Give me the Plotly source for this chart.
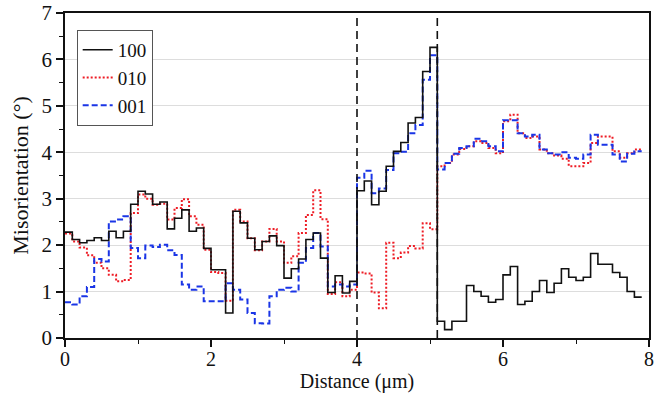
import plotly.graph_objects as go

distance = [0.0, 0.1, 0.2, 0.3, 0.4, 0.5, 0.6, 0.7, 0.8, 0.9,
            1.0, 1.1, 1.2, 1.3, 1.4, 1.5, 1.6, 1.7, 1.8, 1.9,
            2.0, 2.1, 2.2, 2.3, 2.4, 2.5, 2.6, 2.7, 2.8, 2.9,
            3.0, 3.1, 3.2, 3.3, 3.4, 3.5, 3.6, 3.7, 3.8, 3.9,
            4.0, 4.1, 4.2, 4.3, 4.4, 4.5, 4.6, 4.7, 4.8, 4.9,
            5.0, 5.1, 5.2, 5.3, 5.4, 5.5, 5.6, 5.7, 5.8, 5.9,
            6.0, 6.1, 6.2, 6.3, 6.4, 6.5, 6.6, 6.7, 6.8, 6.9,
            7.0, 7.1, 7.2, 7.3, 7.4, 7.5, 7.6, 7.7, 7.8, 7.9]

mis_100 = [2.28, 2.12, 2.05, 2.10, 2.16, 2.10, 2.30, 2.16, 2.30, 2.88,
           3.16, 3.10, 2.88, 2.93, 2.35, 2.58, 2.76, 2.30, 2.37, 1.93,
           1.47, 1.47, 0.54, 2.73, 2.48, 2.15, 1.90, 2.08, 2.20, 1.99,
           1.29, 1.49, 1.70, 2.12, 2.26, 1.72, 0.98, 1.34, 0.97, 1.22,
           3.17, 3.38, 2.87, 3.16, 3.70, 4.02, 4.21, 4.63, 4.75, 5.74,
           6.26, 0.36, 0.18, 0.36, 0.36, 1.13, 1.00, 0.90, 0.77, 0.83,
           1.36, 1.54, 0.72, 0.79, 1.00, 1.24, 0.98, 1.18, 1.49, 1.31,
           1.24, 1.31, 1.82, 1.59, 1.59, 1.41, 1.31, 1.00, 0.88, 0.88]

mis_010 = [2.25, 2.08, 1.95, 1.78, 1.62, 1.50, 1.36, 1.22, 1.25, 2.69,
           3.09, 3.00, 2.87, 2.89, 2.55, 2.80, 2.99, 2.62, 2.44, 1.90,
           1.42, 1.40, 0.80, 2.76, 2.51, 2.15, 1.89, 2.08, 2.35, 2.08,
           1.62, 1.76, 2.26, 2.65, 3.18, 2.56, 0.95, 1.20, 0.90, 1.04,
           1.41, 1.39, 0.98, 0.64, 2.05, 1.72, 1.84, 1.98, 1.93, 2.47,
           2.34, 3.70, 3.77, 3.95, 4.07, 4.13, 4.24, 4.20, 4.09, 3.98,
           4.67, 4.81, 4.41, 4.31, 4.34, 4.06, 3.98, 3.93, 3.86, 3.70,
           3.70, 3.77, 4.20, 4.34, 4.34, 4.02, 3.88, 3.98, 4.06, 4.06]

mis_001 = [0.77, 0.72, 0.90, 1.10, 1.70, 1.65, 2.51, 2.55, 2.62, 1.94,
           1.72, 1.99, 1.96, 2.01, 1.89, 1.79, 1.15, 1.04, 1.11, 0.79,
           0.79, 0.79, 1.18, 1.04, 0.83, 0.54, 0.32, 0.31, 0.90, 1.04,
           1.08, 1.00, 1.62, 1.94, 2.26, 1.97, 1.11, 1.15, 1.11, 1.15,
           3.45, 3.60, 3.12, 3.22, 3.62, 3.98, 4.01, 4.41, 4.59, 5.56,
           6.09, 3.63, 3.77, 3.97, 4.09, 4.13, 4.29, 4.24, 4.13, 4.02,
           4.69, 4.69, 4.41, 4.34, 4.38, 4.06, 3.98, 3.95, 4.00, 3.88,
           3.86, 3.95, 4.38, 4.16, 4.16, 3.95, 3.80, 3.97, 4.02, 4.02]

boundaries = [4.0, 5.1]
x_ticks = [0, 2, 4, 6, 8]
y_ticks = [0, 1, 2, 3, 4, 5, 6, 7]

SERIF = "Liberation Serif, Times New Roman, serif"

fig = go.Figure()
fig.add_trace(go.Scatter(x=distance, y=mis_010, name="010", mode="lines",
                         line=dict(color="#ee1c25", width=2, dash="2px,2px", shape="hv"),
                         legendrank=2))
fig.add_trace(go.Scatter(x=distance, y=mis_001, name="001", mode="lines",
                         line=dict(color="#1a35e6", width=2, dash="6px,3px", shape="hv"),
                         legendrank=3))
fig.add_trace(go.Scatter(x=distance, y=mis_100, name="100", mode="lines",
                         line=dict(color="#111111", width=1.6, shape="hv"),
                         legendrank=1))

for b in boundaries:
    fig.add_shape(type="line", xref="x", yref="paper", x0=b, x1=b, y0=0, y1=1,
                  line=dict(color="#111111", width=1.6, dash="8px,5px"))

fig.update_layout(
    width=656, height=394,
    margin=dict(l=65, r=7, t=13, b=56),
    plot_bgcolor="white", paper_bgcolor="white",
    font=dict(family=SERIF, size=20, color="#111111"),
    legend=dict(x=0.02, y=0.948, xanchor="left", yanchor="top",
                bordercolor="#555555", borderwidth=1, bgcolor="white",
                font=dict(family=SERIF, size=19), tracegroupgap=0,
                traceorder="normal"),
    showlegend=True,
)
fig.update_xaxes(
    range=[0, 8], tickvals=x_ticks, ticktext=[str(v) for v in x_ticks],
    showline=True, linecolor="#111111", linewidth=1.6, mirror=True,
    ticks="outside", ticklen=7, tickwidth=1.6, tickcolor="#111111",
    minor=dict(dtick=1, ticks="outside", ticklen=4, tickwidth=1.4, tickcolor="#111111", showgrid=False),
    showgrid=False, zeroline=False, automargin=False, ticklabeloverflow="allow",
    tickfont=dict(family=SERIF, size=20), ticklabelstandoff=-5,
    title=dict(text="Distance (μm)", font=dict(family=SERIF, size=20), standoff=0),
)
fig.update_yaxes(
    range=[0, 7], tickvals=y_ticks, ticktext=[str(v) for v in y_ticks],
    showline=True, linecolor="#111111", linewidth=1.6, mirror=True,
    ticks="outside", ticklen=7, tickwidth=1.6, tickcolor="#111111",
    minor=dict(dtick=0.5, ticks="outside", ticklen=4, tickwidth=1.4, tickcolor="#111111", showgrid=False),
    showgrid=True, gridcolor="#dddddd", gridwidth=1, zeroline=False, automargin=False,
    ticklabeloverflow="allow",
    tickfont=dict(family=SERIF, size=21),
    title=dict(text="Misorientation (°)", font=dict(family=SERIF, size=22), standoff=7),
)

# remove the default 8px body margin so the figure sits at the page origin
fig.write_html("out.html", config={"displayModeBar": False},
               post_script="document.body.style.margin='0px';")
